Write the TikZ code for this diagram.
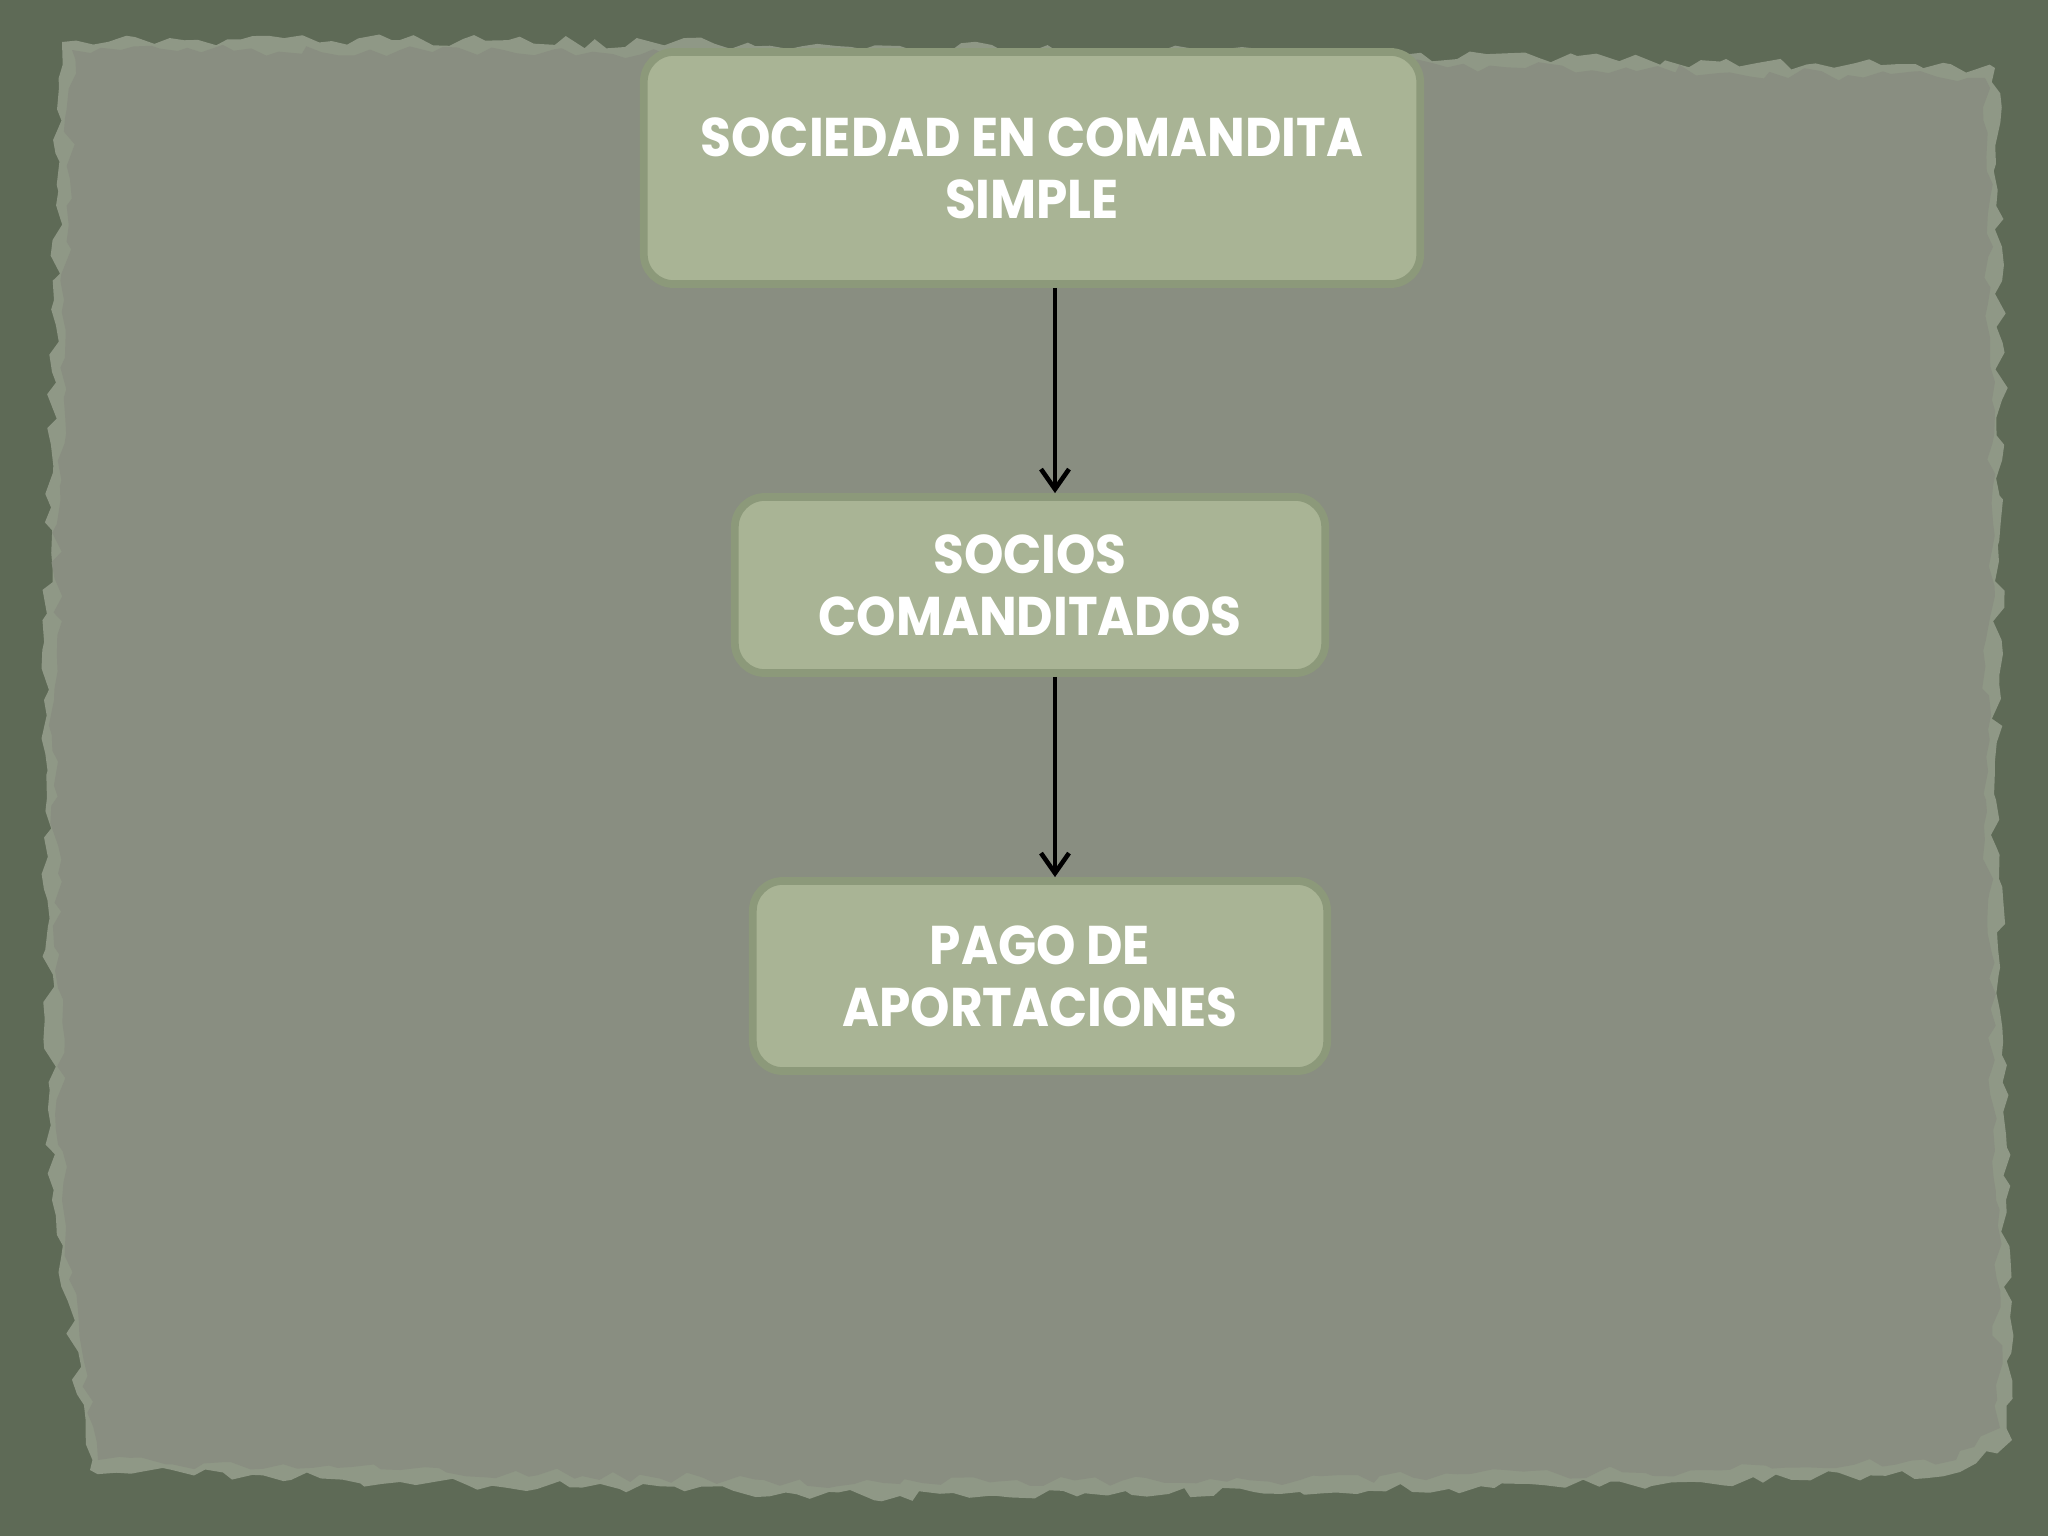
\documentclass[tikz,border=0pt]{standalone}
\usepackage{fontspec}
\setmainfont{Poppins}[FakeStretch=0.92]
\usetikzlibrary{arrows.meta,decorations.pathmorphing}
\definecolor{outerbg}{HTML}{5E6A56}
\definecolor{paper}{HTML}{898E81}
\definecolor{paperrim}{HTML}{8F9886}
\definecolor{boxfill}{HTML}{A9B495}
\definecolor{boxline}{HTML}{8C997A}
\tikzset{
  flowbox/.style={draw=boxline, line width=2.2pt, fill=boxfill, rounded corners=0.3cm,
    text=white, font=\bfseries\fontsize{15.5}{17.6}\selectfont, align=center, inner sep=0pt},
  flowarrow/.style={draw=black, line width=1.3pt, -{Straight Barb[length=0.2cm,width=0.28cm]}},
  torn/.style={decorate, decoration={random steps, segment length=0.15cm, amplitude=0.06cm}}
}
\begin{document}
\begin{tikzpicture}[x=0.01cm,y=-0.01cm]
\pgfmathsetseed{7}
\useasboundingbox (0,0) rectangle (2048,1536);
\fill[outerbg] (0,0) rectangle (2048,1536);
% torn paper rim (lighter)
\fill[paperrim, torn] (62,42) -- (400,40) -- (900,46) -- (1400,55) -- (1995,68)
  -- (2002,400) -- (1996,800) -- (2006,1200) -- (2012,1440) -- (1960,1472)
  -- (1700,1482) -- (1300,1492) -- (900,1496) -- (400,1482) -- (90,1470)
  -- (52,1200) -- (44,700) -- (54,300) -- cycle;
% paper body
\fill[paper, torn] (72,50) -- (400,50) -- (900,56) -- (1400,64) -- (1985,78)
  -- (1992,400) -- (1986,800) -- (1996,1200) -- (2000,1428) -- (1956,1460)
  -- (1700,1470) -- (1300,1480) -- (900,1484) -- (400,1470) -- (98,1460)
  -- (62,1200) -- (54,700) -- (64,300) -- cycle;
% boxes
\node[flowbox, minimum width=7.76cm, minimum height=2.32cm] (top) at (1032,168)
  {SOCIEDAD EN COMANDITA\\SIMPLE};
\node[flowbox, minimum width=5.90cm, minimum height=1.76cm] (mid) at (1030,585)
  {SOCIOS\\COMANDITADOS};
\node[flowbox, minimum width=5.74cm, minimum height=1.90cm] (bot) at (1040,976)
  {PAGO DE\\APORTACIONES};
% connectors
\coordinate (a1s) at (1055,290);
\coordinate (a1e) at (1055,492);
\coordinate (a2s) at (1055,675);
\coordinate (a2e) at (1055,886);
\draw[flowarrow] (top.south -| a1s) -- (mid.north -| a1e);
\draw[flowarrow] (mid.south -| a2s) -- (bot.north -| a2e);
\end{tikzpicture}
\end{document}
